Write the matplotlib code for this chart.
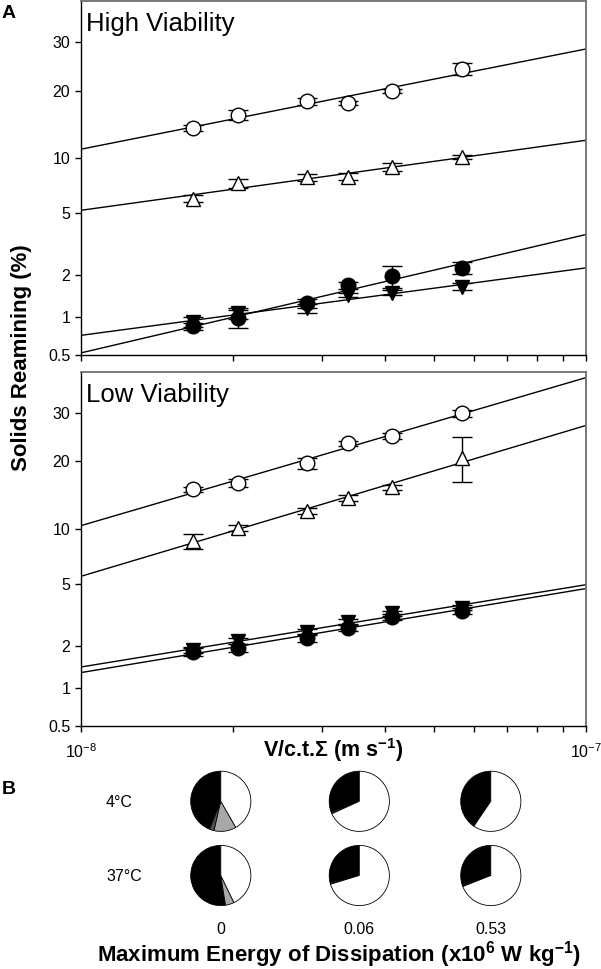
import math
import numpy as np
import matplotlib
matplotlib.use('Agg')
import matplotlib.pyplot as plt
from matplotlib.ticker import LogLocator, NullFormatter, NullLocator

plt.rcParams['font.family'] = ['Liberation Sans', 'DejaVu Sans']
plt.rcParams['mathtext.default'] = 'regular'
plt.rcParams['axes.unicode_minus'] = False

# ---- data ----
x_rate = np.array([1.67e-8, 2.05e-8, 2.81e-8, 3.38e-8, 4.14e-8, 5.69e-8])

# High viability panel, Solids Remaining (%)
high_open_circ = [13.9, 15.9, 18.1, 17.8, 20.0, 24.2]
high_open_circ_err = [0.4, 0.8, 0.6, 0.3, 0.4, 1.2]
high_open_tri = [6.06, 7.35, 7.94, 8.0, 8.96, 10.06]
high_open_tri_err = [0.25, 0.4, 0.35, 0.35, 0.45, 0.25]
high_fill_circ = [0.85, 0.98, 1.27, 1.71, 1.98, 2.26]
high_fill_circ_err = [0.05, 0.15, 0.1, 0.1, 0.35, 0.22]
high_fill_tri = [0.92, 1.07, 1.16, 1.45, 1.51, 1.67]
high_fill_tri_err = [0.08, 0.1, 0.08, 0.05, 0.06, 0.1]

# Low viability panel
low_open_circ = [15.3, 16.3, 19.7, 23.5, 25.0, 30.0]
low_open_circ_err = [0.4, 0.6, 1.0, 0.5, 0.6, 0.8]
low_open_tri = [8.6, 10.1, 12.2, 14.0, 15.6, 20.6]
low_open_tri_err = [0.75, 0.35, 0.4, 0.4, 0.4, 4.2]
low_fill_circ = [1.82, 1.96, 2.27, 2.67, 3.15, 3.43]
low_fill_circ_err = [0.12, 0.12, 0.12, 0.12, 0.15, 0.15]
low_fill_tri = [1.89, 2.18, 2.52, 2.93, 3.31, 3.59]
low_fill_tri_err = [0.1, 0.1, 0.1, 0.12, 0.12, 0.12]

y_ticks = [0.5, 1, 2, 5, 10, 20, 30]
y_ticklabels = ['0.5', '1', '2', '5', '10', '20', '30']

# Panel B pies: fractions (%) of black / dark grey / grey / white
temps = ['4\u00b0C', '37\u00b0C']
energy_labels = ['0', '0.06', '0.53']
pie_4C = [[43.9, 2.5, 11.9, 41.7],
          [30.8, 1.0, 0.0, 68.2],
          [40.0, 0.5, 0.0, 59.5]]
pie_37C = [[52.0, 0.5, 4.7, 42.8],
           [28.6, 0.8, 0.3, 70.3],
           [30.2, 0.8, 0.0, 69.0]]
pie_colors = ['#000000', '#505050', '#a8a8a8', '#ffffff']


# ---- probability (probit) scale for % ----
_a = [-3.969683028665376e+01, 2.209460984245205e+02, -2.759285104469687e+02,
      1.383577518672690e+02, -3.066479806614716e+01, 2.506628277459239e+00]
_b = [-5.447609879822406e+01, 1.615858368580409e+02, -1.556989798598866e+02,
      6.680131188771972e+01, -1.328068155288572e+01]
_c = [-7.784894002430293e-03, -3.223964580411365e-01, -2.400758277161838e+00,
      -2.549671010229528e+00, 4.374664141464968e+00, 2.938163982698783e+00]
_d = [7.784695709041462e-03, 3.224671290700398e-01, 2.445134137142996e+00,
      3.754408661907416e+00]


def _ppf(p):
    p = np.clip(np.asarray(p, dtype=float), 1e-12, 1 - 1e-12)
    out = np.empty_like(p)
    lo = p < 0.02425
    hi = p > 1 - 0.02425
    mid = ~(lo | hi)
    q = np.sqrt(-2 * np.log(p[lo]))
    out[lo] = ((((((_c[0]*q+_c[1])*q+_c[2])*q+_c[3])*q+_c[4])*q+_c[5]) /
               ((((_d[0]*q+_d[1])*q+_d[2])*q+_d[3])*q+1))
    q = np.sqrt(-2 * np.log(1 - p[hi]))
    out[hi] = -((((((_c[0]*q+_c[1])*q+_c[2])*q+_c[3])*q+_c[4])*q+_c[5]) /
                ((((_d[0]*q+_d[1])*q+_d[2])*q+_d[3])*q+1))
    q = p[mid] - 0.5
    r = q * q
    out[mid] = ((((((_a[0]*r+_a[1])*r+_a[2])*r+_a[3])*r+_a[4])*r+_a[5])*q /
                (((((_b[0]*r+_b[1])*r+_b[2])*r+_b[3])*r+_b[4])*r+1))
    return out


_erf = np.vectorize(math.erf, otypes=[float])


def probit(pct):
    return _ppf(np.asarray(pct, dtype=float) / 100.0)


def inv_probit(z):
    z = np.asarray(z, dtype=float)
    return 50.0 * (1 + _erf(z / math.sqrt(2)))


def fit_line(ax, y):
    slope, icpt = np.polyfit(np.log10(x_rate), probit(y), 1)
    xx = np.logspace(-8, -7, 30)
    ax.plot(xx, inv_probit(icpt + slope * np.log10(xx)), color='k', lw=1.0, zorder=1)


def draw_series(ax, y, err, marker, filled):
    fit_line(ax, y)
    ax.errorbar(x_rate, y, yerr=err, fmt='none', ecolor='k', elinewidth=1.0,
                capsize=7, capthick=1.0, zorder=2)
    ms = 10.5 if marker == 'o' else 10
    if filled:
        ax.plot(x_rate, y, marker, ls='none', ms=ms, mfc='k', mec='k', zorder=3)
    else:
        ax.plot(x_rate, y, marker, ls='none', ms=ms, mfc='w', mec='k', mew=1.0, zorder=3)


def style_axes(ax, show_xlabels):
    ax.set_xscale('log')
    ax.set_yscale('function', functions=(probit, inv_probit))
    ax.set_xlim(1e-8, 1e-7)
    ax.set_ylim(0.5, 40)
    ax.set_yticks(y_ticks)
    ax.set_yticklabels(y_ticklabels)
    ax.yaxis.set_minor_locator(NullLocator())
    ax.xaxis.set_major_locator(LogLocator(base=10))
    ax.xaxis.set_minor_locator(LogLocator(base=10, subs=np.arange(2, 10)))
    ax.xaxis.set_minor_formatter(NullFormatter())
    ax.tick_params(axis='both', which='both', direction='out', length=4.5, width=1,
                   labelsize=11.5, top=False, right=False)
    ax.tick_params(axis='y', pad=3)
    ax.tick_params(axis='x', which='major', pad=7, labelbottom=show_xlabels)
    for s in ['left', 'bottom']:
        ax.spines[s].set_color('k')
        ax.spines[s].set_linewidth(1.0)
    for s in ['top', 'right']:
        ax.spines[s].set_color('#6e6e6e')
        ax.spines[s].set_linewidth(1.3)


W, H = 601, 969
fig = plt.figure(figsize=(W / 100, H / 100), dpi=100)

ax_hi = fig.add_axes([80.7 / W, 1 - 355 / H, 505 / W, 354 / H])
ax_lo = fig.add_axes([80.7 / W, 1 - 726 / H, 505 / W, 354.3 / H])

draw_series(ax_hi, high_open_circ, high_open_circ_err, 'o', False)
draw_series(ax_hi, high_open_tri, high_open_tri_err, '^', False)
draw_series(ax_hi, high_fill_tri, high_fill_tri_err, 'v', True)
draw_series(ax_hi, high_fill_circ, high_fill_circ_err, 'o', True)

draw_series(ax_lo, low_open_circ, low_open_circ_err, 'o', False)
draw_series(ax_lo, low_open_tri, low_open_tri_err, '^', False)
draw_series(ax_lo, low_fill_tri, low_fill_tri_err, 'v', True)
draw_series(ax_lo, low_fill_circ, low_fill_circ_err, 'o', True)

style_axes(ax_hi, False)
style_axes(ax_lo, True)

ax_hi.text(0.01, 0.914, 'High Viability', transform=ax_hi.transAxes, fontsize=18.5,
           va='baseline', ha='left')
ax_lo.text(0.01, 0.914, 'Low Viability', transform=ax_lo.transAxes, fontsize=18.5,
           va='baseline', ha='left')

ax_lo.set_xlabel('V/c.t.\u03a3 (m s$^{-1}$)', fontsize=15.5, fontweight='bold')
ax_lo.xaxis.set_label_coords(0.5, -0.028)

fig.text(22 / W, 1 - 358 / H, 'Solids Reamining (%)', rotation=90, fontsize=16,
         fontweight='bold', ha='center', va='center')
fig.text(2 / W, 1 - 13 / H, 'A', fontsize=14, fontweight='bold', ha='left', va='center')
fig.text(2 / W, 1 - 790 / H, 'B', fontsize=14, fontweight='bold', ha='left', va='center')

# ---- panel B: pies ----
col_x = [220.8, 359.3, 490.8]
row_y = [801.3, 875.5]
d = 62
for r, (temp, pies) in enumerate(zip(temps, [pie_4C, pie_37C])):
    fig.text(106 / W, 1 - (row_y[r] + 1) / H, temp, fontsize=11.5, ha='left', va='center')
    for c, vals in enumerate(pies):
        pax = fig.add_axes([(col_x[c] - d / 2) / W, 1 - (row_y[r] + d / 2) / H, d / W, d / H])
        pax.pie(vals, colors=pie_colors, startangle=90, counterclock=True,
                wedgeprops=dict(edgecolor='k', linewidth=0.6))
        pax.set_xlim(-1.03, 1.03)
        pax.set_ylim(-1.03, 1.03)
        pax.set_aspect('equal')
for c, lab in enumerate(energy_labels):
    fig.text(col_x[c] / W, 1 - 929 / H, lab, fontsize=11.5, ha='center', va='center')

fig.text(339 / W, 1 - 955 / H, 'Maximum Energy of Dissipation (x10$^{6}$ W kg$^{-1}$)',
         fontsize=16, fontweight='bold', ha='center', va='center')

fig.savefig('out.png', dpi=100)
